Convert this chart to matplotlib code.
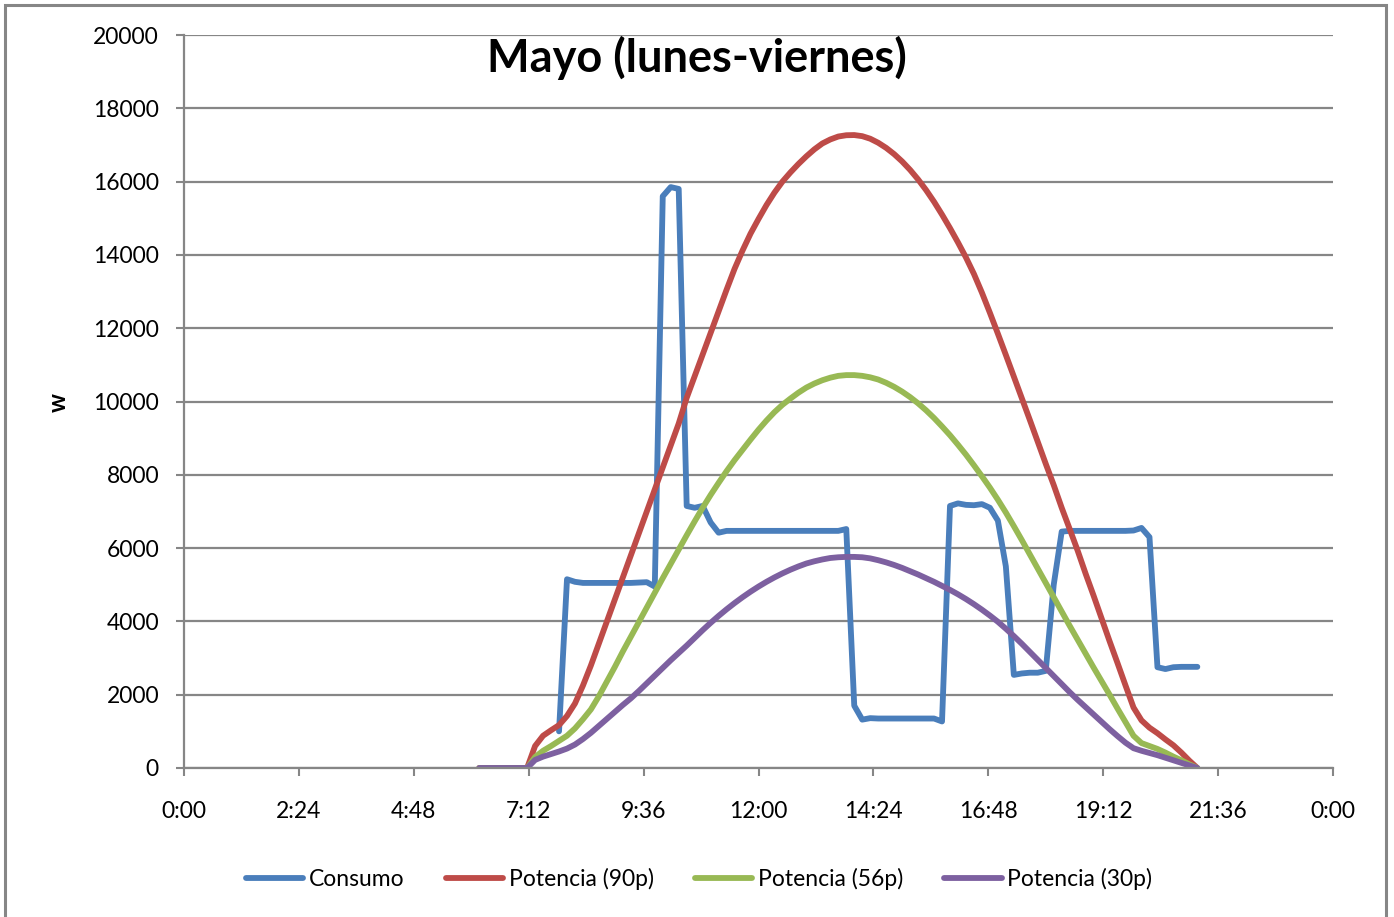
import matplotlib
matplotlib.use('Agg')
import matplotlib.pyplot as plt
import matplotlib.patches as mpatches
import numpy as np

## Horas (cada 10 minutos, de 6:10 a 21:10)
horas = [f'{6 + (k + 1) // 6}:{((k + 1) % 6) * 10:02d}' for k in range(91)]

nan = np.nan
consumo = [nan, nan, nan, nan, nan, nan, nan, nan, nan, nan,
           1000, 5150, 5080, 5050, 5050, 5050, 5050, 5050, 5050, 5050, 5060, 5070, 4950,
           15600, 15850, 15800, 7150, 7100, 7150,
           6700, 6420, 6470,
           6470, 6470, 6470, 6470, 6470, 6470, 6470, 6470, 6470, 6470, 6470, 6470, 6470, 6470,
           6520, 1700, 1320, 1360,
           1350, 1350, 1350, 1350, 1350, 1350, 1350, 1350,
           1270, 7150, 7220, 7180, 7170, 7200, 7100,
           6750, 5500, 2540, 2580, 2600, 2600,
           2650, 5000, 6450,
           6470, 6470, 6470, 6470, 6470, 6470, 6470, 6470,
           6480, 6550, 6300, 2750, 2700, 2750, 2760, 2760, 2760]

potencia_90 = [0, 0, 0, 0, 0, 0, 0,
               600, 880, 1030, 1170, 1420, 1760, 2250, 2800, 3400, 4000, 4600, 5200,
               5800, 6400, 7000, 7600, 8200, 8800, 9400, 10100, 10690, 11280, 11870, 12460,
               13050, 13620, 14120, 14580, 14980, 15360, 15700, 16000, 16250, 16480, 16690,
               16880, 17040, 17150, 17230, 17265, 17270, 17240, 17170, 17060, 16920, 16750,
               16550, 16320, 16060, 15770, 15450, 15100, 14730, 14340, 13930, 13480, 12970,
               12420, 11850, 11270, 10680, 10090, 9500, 8900, 8300, 7720, 7100, 6520, 5930,
               5300, 4700, 4080, 3460, 2860, 2250, 1650, 1300, 1100, 950, 780, 620, 420, 200, 0]

potencia_56 = [0, 0, 0, 0, 0, 0, 0,
               300, 470, 600, 740, 880, 1080, 1330, 1600, 1960, 2360, 2760, 3180,
               3580, 3980, 4380, 4780, 5180, 5570, 5960, 6350, 6730, 7100, 7450, 7780,
               8100, 8400, 8680, 8960, 9230, 9480, 9710, 9910, 10080, 10240, 10380,
               10490, 10580, 10650, 10700, 10720, 10720, 10700, 10660, 10600, 10510, 10400,
               10270, 10120, 9950, 9760, 9550, 9320, 9080, 8820, 8550, 8260, 7960,
               7650, 7320, 6970, 6600, 6220, 5830, 5440, 5050, 4660, 4270, 3880, 3500,
               3120, 2740, 2370, 2000, 1620, 1250, 880, 680, 600, 520, 420, 310, 210, 100, 0]

potencia_30 = [0, 0, 0, 0, 0, 0, 0,
               220, 310, 380, 450, 530, 640, 790, 960, 1150, 1340, 1530, 1720,
               1900, 2100, 2310, 2520, 2730, 2940, 3140, 3340, 3550, 3760, 3960, 4150,
               4330, 4500, 4660, 4810, 4950, 5080, 5200, 5310, 5410, 5500, 5580,
               5640, 5690, 5730, 5750, 5760, 5760, 5750, 5720, 5670, 5610, 5540,
               5460, 5370, 5280, 5180, 5080, 4970, 4860, 4740, 4610, 4470, 4320,
               4160, 3990, 3800, 3600, 3390, 3170, 2950, 2730, 2510, 2290, 2070, 1860,
               1660, 1460, 1260, 1060, 870, 690, 540, 470, 410, 350, 280, 210, 140, 70, 0]

series = [('Consumo', consumo, '#4A7EBB'),
          ('Potencia (90p)', potencia_90, '#BE4B48'),
          ('Potencia (56p)', potencia_56, '#98B954'),
          ('Potencia (30p)', potencia_30, '#7D60A0')]

xticks = [0, 2.4, 4.8, 7.2, 9.6, 12, 14.4, 16.8, 19.2, 21.6, 24]
xlabels = ['0:00', '2:24', '4:48', '7:12', '9:36', '12:00', '14:24', '16:48', '19:12', '21:36', '0:00']
yticks = [0, 2000, 4000, 6000, 8000, 10000, 12000, 14000, 16000, 18000, 20000]

plt.rcParams['font.family'] = ['Lato', 'DejaVu Sans']
grey = '#868686'

fig = plt.figure(figsize=(13.94, 9.17), dpi=100)
ax = fig.add_axes([184/1394, 1 - 768/917, (1333 - 184)/1394, (768 - 35)/917])

t = np.array([int(h.split(':')[0]) + int(h.split(':')[1]) / 60 for h in horas])
handles = []
for name, vals, color in series:
    line, = ax.plot(t, vals, color=color, lw=4.2, label=name,
                    solid_joinstyle='round', solid_capstyle='round')
    handles.append(line)

ax.set_xlim(0, 24)
ax.set_ylim(0, 20000)
ax.set_xticks(xticks)
ax.set_xticklabels(xlabels)
ax.set_yticks(yticks)
ax.set_yticklabels([str(v) for v in yticks])
ax.tick_params(axis='both', direction='out', length=6, width=1.5, color=grey, labelsize=16.5)
ax.tick_params(axis='y', pad=12)
ax.tick_params(axis='x', pad=18)

ax.grid(axis='y', color=grey, lw=1.6)
ax.set_axisbelow(True)
for s in ['top', 'right']:
    ax.spines[s].set_visible(False)
for s in ['left', 'bottom']:
    ax.spines[s].set_color(grey)
    ax.spines[s].set_linewidth(1.6)

## Titulo y etiqueta del eje
fig.text(0.5, 1 - 58/917, 'Mayo (lunes-viernes)', ha='center', va='center',
         fontsize=32.5, fontweight='bold')
fig.text(58/1394, 1 - 402/917, 'w', ha='center', va='center', rotation=90,
         fontsize=17, fontweight='bold')

fig.legend(handles=handles, loc='center', bbox_to_anchor=(0.5015, 1 - 879/917), ncol=4,
           frameon=False, fontsize=16.5, handlelength=2.5, handletextpad=0.25,
           columnspacing=1.8)

## Borde del grafico
border = mpatches.Rectangle((5/1394, -0.05), (1386 - 5)/1394, 1.05 - 5/917,
                            transform=fig.transFigure, fill=False, edgecolor=grey,
                            lw=2.2, clip_on=False)
fig.patches.append(border)

fig.savefig('out.png', dpi=100)
